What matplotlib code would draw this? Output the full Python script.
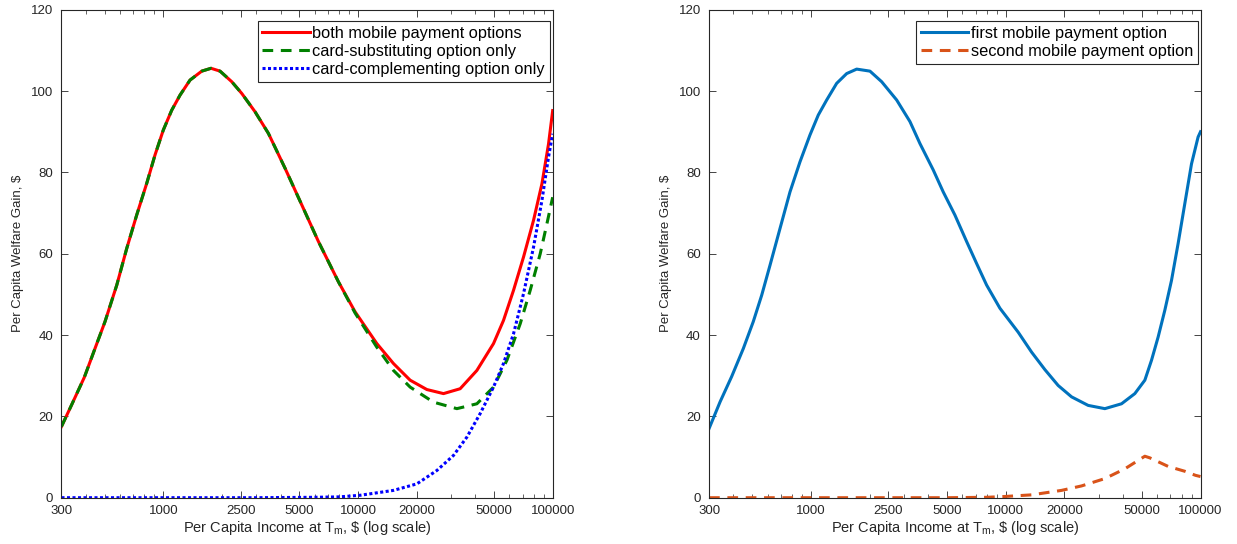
import matplotlib
matplotlib.use("Agg")
import matplotlib.pyplot as plt
from matplotlib.ticker import FixedLocator, NullFormatter, LogLocator

C_INK = "#262626"

plt.rcParams.update({
    "font.family": ["Liberation Sans", "DejaVu Sans"],
    "mathtext.fontset": "custom",
    "mathtext.rm": "Liberation Sans",
    "font.size": 10,
    "xtick.direction": "in",
    "ytick.direction": "in",
    "xtick.top": True,
    "ytick.right": True,
    "axes.linewidth": 0.8,
    "axes.edgecolor": C_INK,
})

# left panel
both_x = [300, 338, 393, 446, 502, 577, 649, 730, 822, 907, 1000, 1105, 1219, 1372,
          1576, 1759, 1957, 2247, 2531, 2961, 3466, 4223, 5145, 6263, 7934, 9667,
          12500, 15210, 18530, 22580, 27490, 33480, 40800, 49660, 55890, 62920,
          70840, 79710, 88050, 95200, 100000]
both_y = [17.5, 22.8, 29.6, 36.7, 43.3, 52.3, 61.3, 69.5, 77.3, 84.3, 90.4, 95.3,
          99, 102.7, 104.9, 105.6, 104.9, 102.3, 99.4, 94.9, 89.6, 81, 72, 63, 53.1,
          45.7, 37.9, 33, 28.9, 26.6, 25.6, 26.8, 31.3, 37.9, 43.6, 51, 59.2, 68.2,
          77.2, 87, 95.2]

subst_x = [300, 338, 393, 446, 502, 577, 649, 730, 822, 907, 1000, 1105, 1219, 1372,
           1576, 1759, 1957, 2247, 2531, 2961, 3466, 4223, 5145, 6263, 7934, 9667,
           12500, 15210, 18530, 24420, 32200, 40800, 49660, 58190, 68120, 76650,
           86300, 93420, 100000]
subst_y = [17.5, 22.8, 29.6, 36.7, 43.3, 52.3, 61.3, 69.5, 77.3, 84.3, 90.4, 95.3,
           99, 102.7, 104.9, 105.6, 104.9, 102.3, 99.4, 94.9, 89.6, 81, 72, 63, 53.1,
           45.4, 37.0, 31.3, 27.2, 23.5, 21.9, 23.1, 27.2, 33.8, 42.8, 51, 60, 67.4,
           73.9]

compl_x = [300, 1000, 3000, 6000, 8000, 10260, 15210, 20060, 25420, 30940, 36250,
           42430, 49660, 55890, 62920, 70840, 79710, 88050, 95200, 100000]
compl_y = [0, 0, 0, 0.1, 0.2, 0.6, 1.8, 3.4, 6.7, 10.4, 14.9, 20.7, 27.2, 33, 40.3,
           50.2, 61.6, 73.1, 83.8, 89.5]

# right panel
first_x = [300, 342, 392, 450, 506, 559, 617, 694, 781, 879, 989, 1091, 1205, 1356,
           1526, 1718, 2010, 2308, 2756, 3224, 3628, 4246, 4778, 5487, 6300, 7089,
           7978, 9337, 11590, 13580, 15890, 18590, 21780, 26500, 32280, 39320, 46010,
           51790, 56040, 60590, 65590, 70950, 76740, 83050, 89910, 97190, 100000]
first_y = [17, 23.6, 29.8, 36.7, 43.3, 49.8, 57.2, 66.2, 75.2, 82.6, 89.2, 94.1,
           97.8, 101.9, 104.3, 105.4, 104.9, 102.3, 97.8, 92.5, 87.1, 80.6, 75.2,
           69.5, 63, 57.6, 52.3, 46.6, 40.7, 35.8, 31.5, 27.6, 24.8, 22.7, 21.9, 23.1,
           25.6, 28.9, 33.8, 39.5, 46.1, 53.4, 62.5, 72.3, 82.1, 88.7, 90]

second_x = [300, 1000, 5000, 8000, 9904, 13580, 19350, 24520, 32280, 40880, 51790,
            54930, 68170, 83050, 94260, 100000]
second_y = [0, 0, 0, 0.1, 0.3, 0.7, 1.8, 2.9, 4.7, 7.1, 10.2, 9.8, 7.7, 6.5, 5.5, 5.2]

xticks = [300, 1000, 2500, 5000, 10000, 20000, 50000, 100000]
xlabels = [str(t) for t in xticks]
yticks = [0, 20, 40, 60, 80, 100, 120]

fig = plt.figure(figsize=(12.37, 5.44), dpi=100)
ax1 = fig.add_axes([0.0497, 0.0851, 0.3971, 0.897])
ax2 = fig.add_axes([0.5732, 0.0851, 0.3973, 0.897])

dash = (0, (3.5, 2.5))
ax1.plot(both_x, both_y, color="#ff0000", lw=2.2, label="both mobile payment options")
ax1.plot(subst_x, subst_y, color="#008000", lw=2.2, ls=dash,
         label="card-substituting option only")
ax1.plot(compl_x, compl_y, color="#0000ff", lw=2.2, ls=(0, (1, 0.8)),
         label="card-complementing option only")

ax2.plot(first_x, first_y, color="#0072BD", lw=2.2, label="first mobile payment option")
ax2.plot(second_x, second_y, color="#D95319", lw=2.2, ls=dash,
         label="second mobile payment option")

for ax in (ax1, ax2):
    ax.set_xscale("log")
    ax.set_xlim(300, 100000)
    ax.set_ylim(0, 120)
    ax.xaxis.set_major_locator(FixedLocator(xticks))
    ax.set_xticklabels(xlabels)
    ax.xaxis.set_minor_locator(LogLocator(base=10, subs=range(2, 10)))
    ax.xaxis.set_minor_formatter(NullFormatter())
    ax.set_yticks(yticks)
    ax.tick_params(which="major", length=5, width=0.6, labelsize=9.5, colors=C_INK)
    ax.tick_params(which="minor", length=3, width=0.5, colors=C_INK)
    ax.tick_params(axis="x", which="major", pad=5.5)
    ax.tick_params(axis="y", which="major", pad=6)
    ax.set_xlabel("Per Capita Income at T$_{\\rm m}$, \\$ (log scale)", fontsize=10.5,
                  color=C_INK, labelpad=1)
    ax.set_ylabel("Per Capita Welfare Gain, $", fontsize=9.5, color=C_INK, labelpad=5)
    leg = ax.legend(loc="upper right", bbox_to_anchor=(0.9945, 0.9775), borderaxespad=0,
                    fontsize=11.8, handlelength=2.9, handletextpad=0.15, borderpad=0.3,
                    labelspacing=0.2, fancybox=False, edgecolor=C_INK, framealpha=1)
    leg.get_frame().set_linewidth(0.8)

fig.savefig("out.png", dpi=100)
